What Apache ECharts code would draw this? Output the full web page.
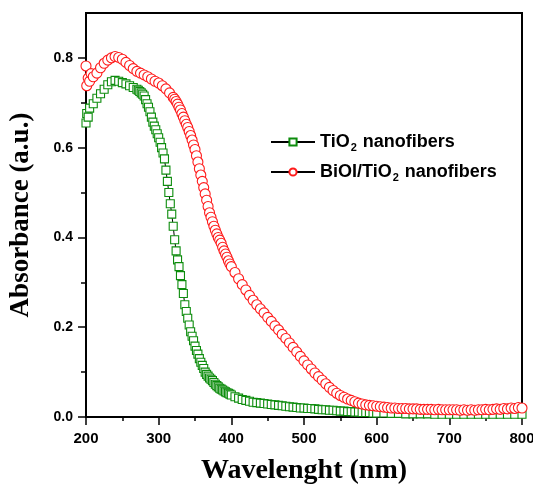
<!DOCTYPE html>
<html>
<head>
<meta charset="utf-8">
<script src="https://cdn.jsdelivr.net/npm/echarts@6/dist/echarts.min.js"></script>
<style>
  html, body { margin: 0; padding: 0; background: #fff; }
  #chart { width: 533px; height: 486px; }
</style>
</head>
<body>
<div id="chart"></div>
<script>
// TiO2 nanofibers (green squares)
const tioWave = [
  200, 201, 203, 205, 210, 215, 220, 225, 230, 235, 240, 245, 250, 255, 260, 265,
  270, 272, 274, 276, 278, 280, 282, 284, 286, 288, 290, 292, 294, 296, 298,
  300, 302, 304, 306, 308, 310, 312, 314, 316, 318, 320, 322, 324, 326, 328,
  330, 332, 334, 336, 338, 340, 342, 344, 346, 348, 350, 352, 354, 356, 358,
  360, 362, 364, 366, 368, 370, 372, 374, 376, 378, 380, 382, 384, 386, 388,
  390, 392, 394, 396, 398, 400,
  405, 410, 415, 420, 425, 430, 435, 440, 445, 450, 455, 460, 465, 470, 475,
  480, 485, 490, 495, 500, 505, 510, 515, 520, 525, 530, 535, 540, 545, 550,
  555, 560, 565, 570, 575, 580, 585, 590, 595,
  600, 610, 620, 630, 640, 650, 660, 670, 680, 690, 700, 710, 720, 730, 740,
  750, 760, 770, 780, 790, 800
];
const tioAbs = [
  0.655, 0.676, 0.668, 0.688, 0.698, 0.710, 0.720, 0.730, 0.740, 0.747, 0.750, 0.748, 0.745, 0.742, 0.738, 0.734,
  0.730, 0.728, 0.725, 0.722, 0.719, 0.715, 0.707, 0.698, 0.690, 0.680, 0.668, 0.657, 0.648, 0.640, 0.631,
  0.622, 0.612, 0.600, 0.588, 0.575, 0.550, 0.525, 0.500, 0.475, 0.452, 0.425, 0.395, 0.370, 0.350, 0.335,
  0.315, 0.295, 0.275, 0.250, 0.235, 0.220, 0.205, 0.190, 0.180, 0.170, 0.158, 0.148, 0.140, 0.130, 0.122,
  0.115, 0.108, 0.100, 0.095, 0.091, 0.087, 0.084, 0.081, 0.077, 0.073, 0.070, 0.067, 0.064, 0.062, 0.060,
  0.058, 0.056, 0.054, 0.053, 0.051, 0.049,
  0.045, 0.042, 0.039, 0.037, 0.035, 0.033, 0.032, 0.031, 0.030, 0.029, 0.028, 0.027, 0.026, 0.025, 0.024,
  0.023, 0.022, 0.021, 0.020, 0.020, 0.019, 0.019, 0.018, 0.017, 0.016, 0.016, 0.015, 0.015, 0.014, 0.013,
  0.013, 0.012, 0.012, 0.011, 0.011, 0.010, 0.010, 0.010, 0.009,
  0.009, 0.009, 0.008, 0.008, 0.007, 0.007, 0.007, 0.007, 0.006, 0.006, 0.006, 0.006, 0.006, 0.006, 0.006,
  0.006, 0.006, 0.006, 0.006, 0.006, 0.006
];

// BiOI/TiO2 nanofibers (red circles)
const bioiWave = [
  200, 201, 203, 205, 207, 210, 215, 220, 225, 230, 235, 240, 245, 250, 255, 260, 265,
  270, 275, 280, 285, 290, 295, 300, 305, 310, 315,
  320, 322, 324, 326, 328, 330, 332, 334, 336, 338, 340, 342, 344, 346, 348,
  350, 352, 354, 356, 358, 360, 362, 364, 366, 368, 370, 372, 374, 376, 378,
  380, 382, 384, 386, 388, 390, 392, 394, 396, 398, 400,
  405, 410, 415, 420, 425, 430, 435, 440, 445, 450, 455, 460, 465, 470, 475,
  480, 485, 490, 495, 500, 505, 510, 515, 520, 525, 530, 535, 540, 545, 550,
  555, 560, 565, 570, 575, 580, 585, 590, 595, 600, 605, 610, 615, 620, 625,
  630, 635, 640, 645, 650, 655, 660, 665, 670, 675, 680, 685, 690, 695, 700,
  705, 710, 715, 720, 725, 730, 735, 740, 745, 750, 755, 760, 765, 770, 775,
  780, 785, 790, 795, 800
];
const bioiAbs = [
  0.782, 0.738, 0.755, 0.748, 0.765, 0.758, 0.766, 0.778, 0.788, 0.795, 0.800, 0.803, 0.801, 0.797, 0.790, 0.783, 0.776,
  0.770, 0.766, 0.762, 0.758, 0.753, 0.748, 0.744, 0.738, 0.731, 0.722,
  0.712, 0.708, 0.703, 0.697, 0.690, 0.684, 0.676, 0.668, 0.660, 0.652, 0.645, 0.636, 0.627, 0.617, 0.606,
  0.596, 0.582, 0.568, 0.553, 0.539, 0.525, 0.511, 0.497, 0.483, 0.469, 0.455, 0.445, 0.435, 0.425, 0.416,
  0.408, 0.400, 0.394, 0.387, 0.378, 0.370, 0.363, 0.356, 0.348, 0.341, 0.335,
  0.322, 0.308, 0.295, 0.283, 0.271, 0.260, 0.250, 0.241, 0.232, 0.222, 0.213, 0.203, 0.194, 0.184, 0.175,
  0.165, 0.155, 0.145, 0.135, 0.125, 0.116, 0.107, 0.098, 0.090, 0.082, 0.074, 0.066, 0.059, 0.053, 0.048,
  0.044, 0.040, 0.037, 0.034, 0.031, 0.029, 0.027, 0.026, 0.025, 0.024, 0.023, 0.022, 0.021, 0.020, 0.020,
  0.019, 0.019, 0.019, 0.018, 0.018, 0.018, 0.017, 0.017, 0.017, 0.017, 0.016, 0.017, 0.016, 0.016, 0.016,
  0.016, 0.016, 0.015, 0.016, 0.015, 0.016, 0.015, 0.016, 0.016, 0.017, 0.016, 0.017, 0.018, 0.017, 0.019,
  0.018, 0.020, 0.019, 0.021, 0.020
];

const yMajor = [0, 0.2, 0.4, 0.6, 0.8];
const yMinor = [0.1, 0.3, 0.5, 0.7];

const zip = (xs, ys) => xs.map((x, i) => [x, ys[i]]);

const chart = echarts.init(document.getElementById('chart'));

const sans = 'Arial, "Liberation Sans", sans-serif';
const serif = '"Liberation Serif", "Times New Roman", serif';
const legendFont = { color: '#000', fontFamily: sans, fontWeight: 'bold' };

let option = {
  animation: false,
  grid: {
    left: 86, right: 11, top: 13, bottom: 69,
    outerBoundsMode: 'none',
    show: true, borderColor: '#000', borderWidth: 2
  },
  legend: {
    orient: 'vertical',
    left: 265,
    top: 128,
    itemWidth: 44,
    itemHeight: 9,
    itemGap: 10,
    data: ['TiO2 nanofibers', 'BiOI/TiO2 nanofibers'],
    formatter: name => name === 'TiO2 nanofibers'
      ? '{a|TiO}{s|2}{a| nanofibers}'
      : '{a|BiOI/TiO}{s|2}{a| nanofibers}',
    textStyle: {
      rich: {
        a: Object.assign({ fontSize: 18, lineHeight: 22 }, legendFont),
        s: Object.assign({ fontSize: 11, lineHeight: 22, verticalAlign: 'bottom', padding: [0, 1, 0, 1] }, legendFont)
      }
    }
  },
  xAxis: {
    type: 'value',
    min: 200,
    max: 800,
    interval: 100,
    name: 'Wavelenght (nm)',
    nameLocation: 'middle',
    nameGap: 40,
    nameTextStyle: { color: '#000', fontFamily: serif, fontWeight: 'bold', fontSize: 28 },
    axisLine: { lineStyle: { color: '#000', width: 2 } },
    axisTick: { inside: false, length: 8, lineStyle: { color: '#000', width: 1.5 } },
    minorTick: { show: true, splitNumber: 2, length: 4, lineStyle: { color: '#000', width: 1.5 } },
    axisLabel: { margin: 14, color: '#000', fontFamily: sans, fontWeight: 'bold', fontSize: 15 },
    splitLine: { show: false }
  },
  yAxis: [
    {
      type: 'value',
      min: 0,
      max: 0.9,
      name: 'Absorbance (a.u.)',
      nameLocation: 'middle',
      nameGap: 51,
      nameRotate: 90,
      nameTextStyle: { color: '#000', fontFamily: serif, fontWeight: 'bold', fontSize: 27 },
      axisLine: { show: true, lineStyle: { color: '#000', width: 2 } },
      axisTick: { show: true, length: 8, customValues: yMajor, lineStyle: { color: '#000', width: 1.5 } },
      axisLabel: { margin: 13, customValues: yMajor, formatter: v => v.toFixed(1), color: '#000', fontFamily: sans, fontWeight: 'bold', fontSize: 14 },
      splitLine: { show: false }
    },
    {
      type: 'value',
      min: 0,
      max: 0.9,
      position: 'left',
      axisLine: { show: false },
      axisTick: { show: true, length: 5, customValues: yMinor, lineStyle: { color: '#000', width: 1.5 } },
      axisLabel: { show: false },
      splitLine: { show: false }
    }
  ],
  series: [
    {
      name: 'TiO2 nanofibers',
      type: 'line',
      data: zip(tioWave, tioAbs),
      symbol: 'rect',
      symbolSize: 8,
      showAllSymbol: true,
      itemStyle: { color: '#fff', borderColor: '#0c8c0c', borderWidth: 1.1 },
      lineStyle: { color: '#000', width: 1 }
    },
    {
      name: 'BiOI/TiO2 nanofibers',
      type: 'line',
      data: zip(bioiWave, bioiAbs),
      symbol: 'circle',
      symbolSize: 10,
      showAllSymbol: true,
      itemStyle: { color: '#fff', borderColor: '#ff1a1a', borderWidth: 1.1 },
      lineStyle: { color: '#000', width: 1 }
    }
  ]
};

chart.setOption(option);
</script>
</body>
</html>
